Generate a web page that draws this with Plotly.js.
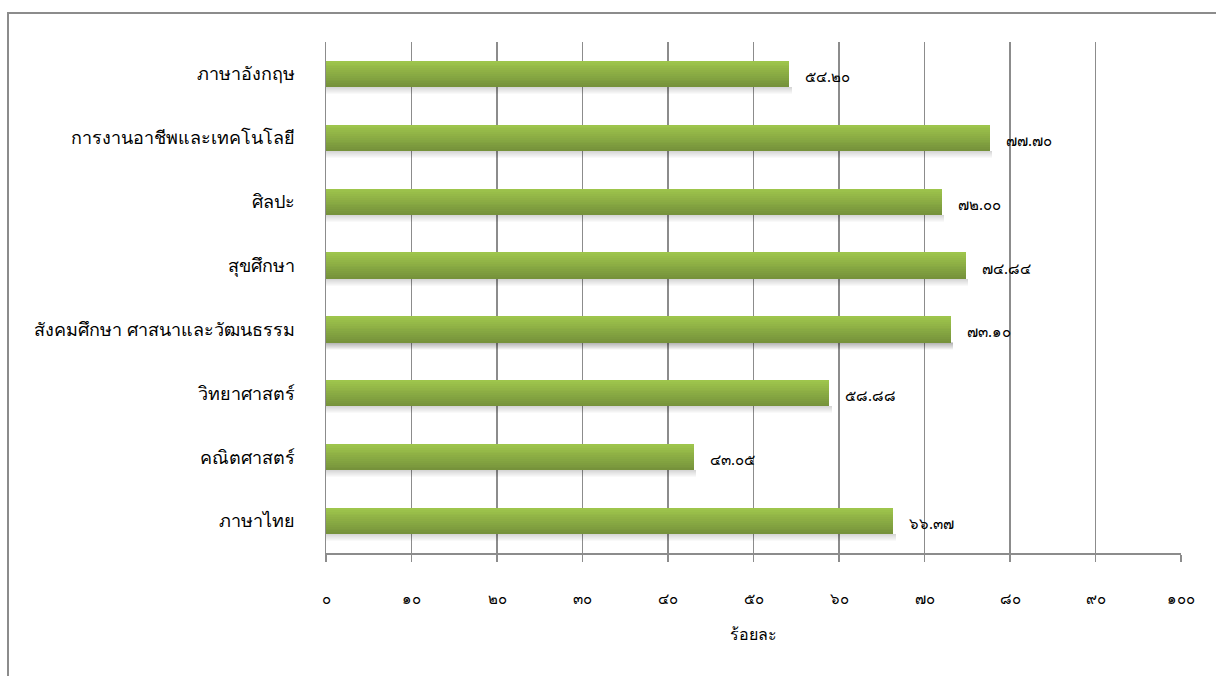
<!DOCTYPE html>
<html>
<head>
<meta charset="utf-8">
<script src="https://cdn.plot.ly/plotly-3.0.1.min.js"></script>
<style>
  html, body { margin: 0; padding: 0; background: #fff; }
  #frame { position: absolute; left: 7px; top: 12px; width: 1300px; height: 800px;
           border-left: 2px solid #8c8c8c; border-top: 2px solid #8c8c8c; box-sizing: border-box; }
  #chart { position: absolute; left: 0; top: 0; width: 1216px; height: 676px; }
</style>
</head>
<body>
<div id="frame"></div>
<div id="chart"></div>
<script>
// Data (bottom to top)
const categories = ["ภาษาไทย", "คณิตศาสตร์", "วิทยาศาสตร์", "สังคมศึกษา ศาสนาและวัฒนธรรม", "สุขศึกษา", "ศิลปะ", "การงานอาชีพและเทคโนโลยี", "ภาษาอังกฤษ"];
const values = [66.37, 43.05, 58.88, 73.10, 74.84, 72.00, 77.70, 54.20];
const tickValues = [0, 10, 20, 30, 40, 50, 60, 70, 80, 90, 100];
const tickLabels = ["๐", "๑๐", "๒๐", "๓๐", "๔๐", "๕๐", "๖๐", "๗๐", "๘๐", "๙๐", "๑๐๐"];
const axisTitle = "ร้อยละ";

const thaiDigits = "๐๑๒๓๔๕๖๗๘๙";
function toThai(s) { return s.replace(/[0-9]/g, d => thaiDigits[+d]); }

const fontFam = "Noto Sans, sans-serif";
const barHalf = 0.205;
const traces = [];

// soft shadow (fading stripes below the bar)
const px = 1 / 64;
const shadowSteps = 7;
for (let k = 0; k < shadowSteps; k++) {
  const a = 0.16 * (1 - k / shadowSteps);
  traces.push({
    type: "bar", orientation: "h", y: categories, x: values.map(v => v + 0.25),
    width: px * 1.1, offset: -barHalf - (k + 1) * px,
    marker: { color: `rgba(0,0,0,${a.toFixed(3)})`, line: { width: 0 } },
    hoverinfo: "skip", showlegend: false
  });
}

// gradient stripes (bottom darker -> top lighter)
const nStripes = 14;
const c0 = [0x76, 0x92, 0x3b], c1 = [0x9e, 0xc5, 0x4c];
for (let k = 0; k < nStripes; k++) {
  const t = k / (nStripes - 1);
  const c = c0.map((a, i) => Math.round(a + (c1[i] - a) * t));
  const w = (barHalf * 2) / nStripes;
  traces.push({
    type: "bar", orientation: "h", y: categories, x: values,
    width: w * 1.05, offset: -barHalf + k * w,
    marker: { color: `rgb(${c[0]},${c[1]},${c[2]})`, line: { width: 0 } },
    hoverinfo: "skip", showlegend: false
  });
}

const annotations = values.map((v, i) => ({
  x: v, y: categories[i], xref: "x", yref: "y",
  text: toThai(v.toFixed(2)), showarrow: false,
  xanchor: "left", xshift: 14, yshift: -2,
  font: { family: fontFam, size: 15, color: "#000" }
}));

const layout = {
  width: 1216, height: 676,
  paper_bgcolor: "rgba(0,0,0,0)", plot_bgcolor: "rgba(0,0,0,0)",
  margin: { l: 326, r: 35, t: 42, b: 123 },
  barmode: "overlay", bargap: 0,
  showlegend: false,
  xaxis: {
    range: [0, 100], tickvals: tickValues, ticktext: tickLabels,
    showgrid: true, gridcolor: "#8c8c8c", gridwidth: 1.5,
    zeroline: false, showline: true, linecolor: "#8c8c8c", linewidth: 1.5,
    ticks: "outside", ticklen: 7, tickcolor: "#8c8c8c", tickwidth: 1.5,
    ticklabelstandoff: 24,
    tickfont: { family: fontFam, size: 15, color: "#000" },
    title: { text: axisTitle, font: { family: fontFam, size: 16, color: "#000" }, standoff: 22 },
    fixedrange: true
  },
  yaxis: {
    type: "category", categoryorder: "array", categoryarray: categories,
    showgrid: false, zeroline: false, showline: true, linecolor: "#8c8c8c", linewidth: 1.5,
    ticks: "", ticklabelstandoff: 26,
    tickfont: { family: fontFam, size: 18, color: "#000" },
    fixedrange: true
  },
  annotations: annotations
};

Plotly.newPlot("chart", traces, layout, { displayModeBar: false, staticPlot: true });
</script>
</body>
</html>
